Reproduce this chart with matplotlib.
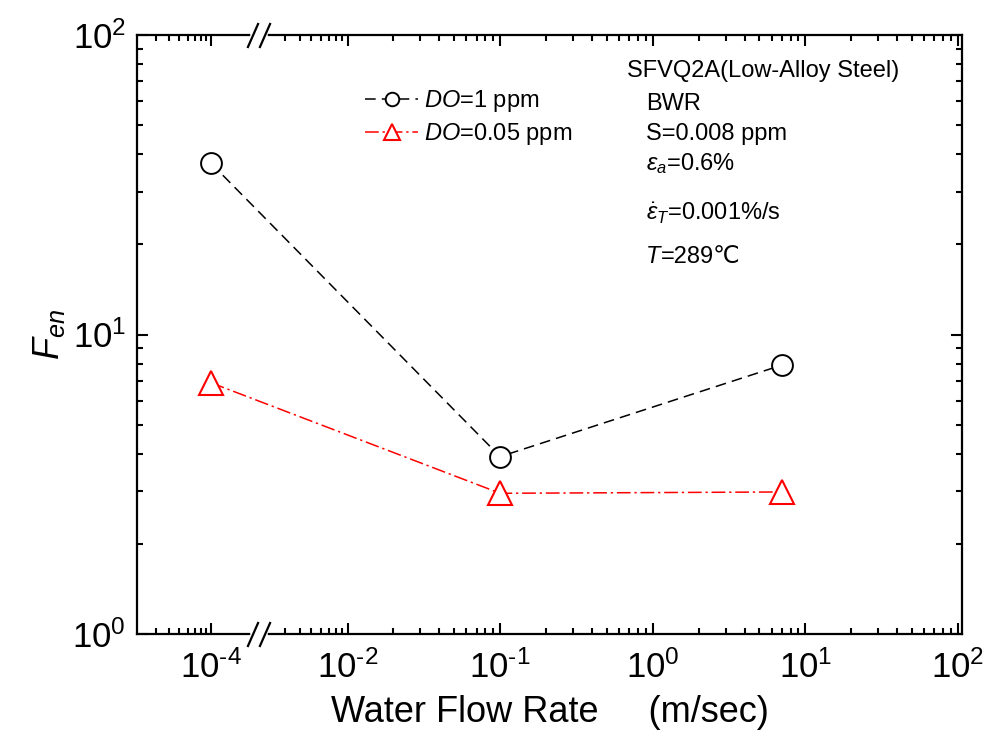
import numpy as np
import matplotlib
matplotlib.use('Agg')
import matplotlib.pyplot as plt
from matplotlib.ticker import FixedLocator, FixedFormatter
from matplotlib.lines import Line2D

plt.rcParams['font.family'] = ['Liberation Sans', 'DejaVu Sans']
plt.rcParams['mathtext.fontset'] = 'custom'
plt.rcParams['mathtext.rm'] = 'Liberation Sans'
plt.rcParams['mathtext.it'] = 'Liberation Sans:italic'
plt.rcParams['mathtext.bf'] = 'Liberation Sans:bold'

# ---------------- data ----------------
flow_do1 = [1e-4, 0.1, 7.0]
fen_do1 = [37.3, 3.91, 7.9]
flow_do005 = [1e-4, 0.1, 7.0]
fen_do005 = [6.9, 2.95, 2.98]
label_do1 = r'$DO$=1 ppm'
label_do005 = r'$DO$=0.05 ppm'

x_major = [1e-4, 1e-2, 1e-1, 1, 10, 100]
x_major_labels = [r'$10^{\text{-}4}$', r'$10^{\text{-}2}$', r'$10^{\text{-}1}$',
                  r'$10^{0}$', r'$10^{1}$', r'$10^{2}$']
y_major = [1, 10, 100]
y_major_labels = [r'$10^{0}$', r'$10^{1}$', r'$10^{2}$']

info_title = 'SFVQ2A(Low-Alloy Steel)'
info_lines = ['BWR', 'S=0.008 ppm', r'$\varepsilon_a$=0.6%', r'$\dot{\varepsilon}_T$=0.001%/s']
info_T = '=289\u2103'

# ---------------- broken log x-scale ----------------
W, H = 989, 735
LOG_ANCH = np.array([-5.0, -4.0, -3.6034, -2.6875, -2.0, 3.0])
POS_ANCH = np.array([211 - 105.9, 211.0, 253.0, 265.0, 347.5, 958 + 152.5])


def fwd(x):
    x = np.asarray(x, dtype=float)
    lx = np.log10(np.clip(x, 1e-12, None))
    return np.interp(lx, LOG_ANCH, POS_ANCH)


def inv(u):
    u = np.asarray(u, dtype=float)
    return 10 ** np.interp(u, POS_ANCH, LOG_ANCH)


fig = plt.figure(figsize=(W / 100, H / 100), dpi=100)
ax = fig.add_axes([137 / W, 1 - 634 / H, 825 / W, 599 / H])
ax.set_xscale('function', functions=(fwd, inv))
ax.set_yscale('log')
ax.set_xlim(10 ** (-4 - 74 / 105.9), 10 ** (2 + 4 / 152.5))
ax.set_ylim(1, 100)

ax.plot(flow_do1, fen_do1, color='black', lw=1.1, dashes=(7, 4),
        marker='o', ms=15, mfc='white', mec='black', mew=1.4, label=label_do1, zorder=3)
ax.plot(flow_do005, fen_do005, color='red', lw=1.1, dashes=(9, 2.5, 1.5, 2.5),
        marker='^', ms=17, mfc='white', mec='red', mew=1.5, label=label_do005, zorder=3)

# ticks
x_minor = [m * 1e-5 for m in range(3, 10)] + [m * 1e-3 for m in range(3, 10)]
for e in (-2, -1, 0, 1):
    x_minor += [m * 10.0 ** e for m in range(2, 10)]
y_minor = []
for e in (0, 1):
    y_minor += [m * 10.0 ** e for m in range(2, 10)]

ax.xaxis.set_major_locator(FixedLocator(x_major))
ax.xaxis.set_major_formatter(FixedFormatter(x_major_labels))
ax.xaxis.set_minor_locator(FixedLocator(x_minor))
ax.xaxis.set_minor_formatter(FixedFormatter([''] * len(x_minor)))
ax.yaxis.set_major_locator(FixedLocator(y_major))
ax.yaxis.set_major_formatter(FixedFormatter(y_major_labels))
ax.yaxis.set_minor_locator(FixedLocator(y_minor))
ax.yaxis.set_minor_formatter(FixedFormatter([''] * len(y_minor)))

ax.tick_params(which='both', direction='in', top=True, right=True, width=1.5, labelsize=25)
ax.tick_params(which='major', length=8)
ax.tick_params(which='minor', length=4.5)
ax.tick_params(axis='x', which='major', pad=12)
ax.tick_params(axis='y', which='major', pad=8)
for s in ax.spines.values():
    s.set_linewidth(1.6)

ax.set_xlabel('Water Flow Rate     (m/sec)', fontsize=26, labelpad=7)
ax.set_ylabel(r'$F_{en}$', fontsize=26, labelpad=4)

# legend
leg = ax.legend(loc='upper left', bbox_to_anchor=(365 / W, 1 - 88 / H), bbox_transform=fig.transFigure,
                frameon=False, fontsize=17, markerscale=0.65, handlelength=2.25,
                handletextpad=0.25, labelspacing=0.3, borderpad=0, borderaxespad=0)

# info text
tf = fig.transFigure
fig.text(627 / W, 1 - 76.7 / H, info_title, fontsize=17, va='baseline', ha='left')
for ypix, txt in zip([110, 140, 170, 220], info_lines):
    fig.text(646 / W, 1 - ypix / H, txt, fontsize=17, va='baseline', ha='left')
tT = fig.text(646 / W, 1 - 263 / H, 'T', fontsize=17, va='baseline', ha='left', style='italic')
ax.annotate(info_T, xy=(1, 0), xycoords=tT, va='bottom', ha='left', fontsize=17,
            annotation_clip=False)

# axis break marks
for ypix in (634, 35):
    yf = 1 - ypix / H
    fig.add_artist(Line2D([253 / W, 265 / W], [yf, yf], color='white', lw=4, transform=tf, zorder=5))
    for c in (253, 265):
        fig.add_artist(Line2D([(c - 5.5) / W, (c + 5.5) / W], [1 - (ypix + 13) / H, 1 - (ypix - 12) / H],
                              color='black', lw=1.6, transform=tf, zorder=6, solid_capstyle='butt'))

fig.savefig('out.png', dpi=100)
